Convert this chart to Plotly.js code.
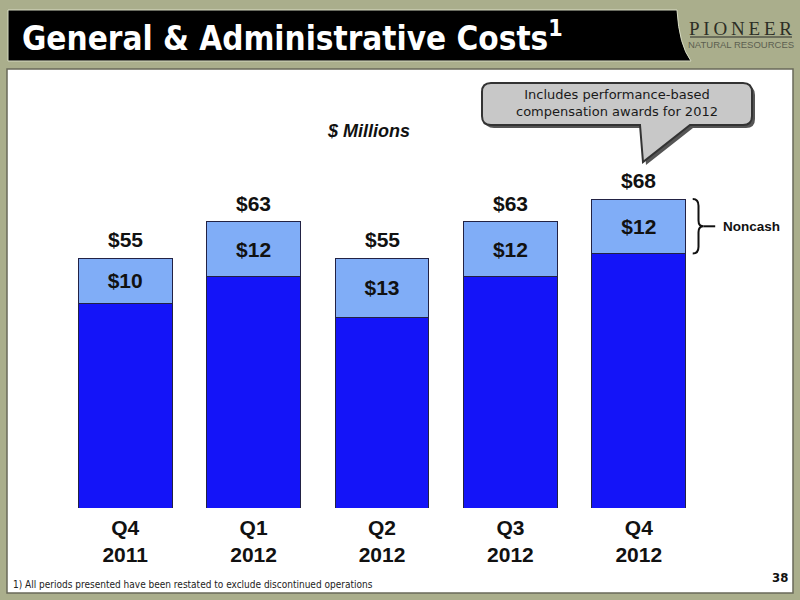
<!DOCTYPE html>
<html>
<head>
<meta charset="utf-8">
<script src="https://cdn.plot.ly/plotly-3.0.1.min.js"></script>
<style>
  body { margin: 0; background: #aaae8c; }
  #chart { width: 800px; height: 600px; }
</style>
</head>
<body>
<div id="chart"></div>
<script>
// chart values ($ millions)
let quarters = ["Q4<br>2011", "Q1<br>2012", "Q2<br>2012", "Q3<br>2012", "Q4<br>2012"]
let cashCosts = [45, 51, 42, 51, 56]
let noncashCosts = [10, 12, 13, 12, 12]
let totalCosts = [55, 63, 55, 63, 68]

let totalLabels = totalCosts.map(v => "$" + v)
let noncashLabels = noncashCosts.map(v => "$" + v)

// page geometry, plot area in pixels
const L = 61, R = 703, T = 70, B = 508
const W = R - L, H = B - T

// pixel -> paper helpers for the slide decoration
function px(x) { return (x - L) / W }
function py(y) { return (B - y) / H }
function path(cmds) {
    return cmds.map(c => {
        if (c[0] == 'Z') return 'Z'
        let out = c[0]
        for (let i = 1; i < c.length; i += 2) out += ' ' + px(c[i]).toFixed(5) + ',' + py(c[i + 1]).toFixed(5)
        return out
    }).join(' ')
}
function calloutPath(dx, dy) {
    let l = 482 + dx, r = 752 + dx, t = 83 + dy, b = 125 + dy, k = 9
    return path([
        ['M', l + k, t], ['L', r - k, t], ['Q', r, t, r, t + k], ['L', r, b - k], ['Q', r, b, r - k, b],
        ['L', 690 + dx, b], ['L', 643 + dx, 162 + dy], ['L', 640 + dx, b],
        ['L', l + k, b], ['Q', l, b, l, b - k], ['L', l, t + k], ['Q', l, t, l + k, t], ['Z']
    ])
}

const boldFont = { family: 'Liberation Sans, Arial', size: 21, color: '#111111', weight: 'bold' }

let cashTrace = {
    x: quarters, y: cashCosts, type: 'bar', name: 'Cash',
    marker: { color: '#1414f8', line: { color: '#222244', width: 1 } },
    hoverinfo: 'none'
}
let noncashTrace = {
    x: quarters, y: noncashCosts, type: 'bar', name: 'Noncash',
    marker: { color: '#80adf7', line: { color: '#222244', width: 1 } },
    text: noncashLabels, textposition: 'inside', insidetextanchor: 'middle',
    textfont: boldFont,
    hoverinfo: 'none'
}

// total labels above each stack
let totalNotes = quarters.map((q, i) => ({
    text: totalLabels[i], x: q, y: totalCosts[i], xref: 'x', yref: 'y',
    yanchor: 'bottom', yshift: 5, showarrow: false, font: boldFont
}))

let layout = {
    width: 800, height: 600,
    margin: { l: L, r: 800 - R, t: T, b: 600 - B },
    paper_bgcolor: '#aaae8c',
    plot_bgcolor: 'rgba(0,0,0,0)',
    barmode: 'stack',
    bargap: 0.27,
    showlegend: false,
    xaxis: {
        range: [-0.5, 4.5], showgrid: false, zeroline: false, showline: false, ticks: '',
        ticklabelstandoff: 5,
        tickfont: boldFont
    },
    yaxis: { range: [0, 96.4], visible: false, fixedrange: true },
    shapes: [
        // white panel
        { type: 'rect', xref: 'paper', yref: 'paper', layer: 'below',
          x0: px(7), x1: px(793), y0: py(69), y1: py(593),
          fillcolor: '#ffffff', line: { color: '#6a6a5a', width: 1.5 } },
        // black title bar
        { type: 'path', xref: 'paper', yref: 'paper', layer: 'below',
          path: path([['M', 8, 10], ['L', 677, 10], ['Q', 679, 45, 691, 61], ['L', 8, 61], ['Z']]),
          fillcolor: '#000000', line: { color: '#d8dcc4', width: 1 } },
        // logo underline
        { type: 'line', xref: 'paper', yref: 'paper',
          x0: px(690), x1: px(792), y0: py(37), y1: py(37), line: { color: '#55574a', width: 1.5 } },
        // callout shadow + bubble
        { type: 'path', xref: 'paper', yref: 'paper', path: calloutPath(3, 3),
          fillcolor: '#555555', line: { width: 0 } },
        { type: 'path', xref: 'paper', yref: 'paper', path: calloutPath(0, 0),
          fillcolor: '#c8c8c8', line: { color: '#333333', width: 2 } },
        // noncash brace on the last bar
        { type: 'path', xref: 'paper', yref: 'y',
          path: 'M 0.984,68 Q 0.993,68 0.993,66.5 L 0.993,63.3 Q 0.993,62 1.001,62 Q 0.993,62 0.993,60.7 L 0.993,57.5 Q 0.993,56 0.984,56',
          line: { color: '#111111', width: 2 } },
        { type: 'line', xref: 'paper', yref: 'y', x0: 1.001, x1: 1.019, y0: 62, y1: 62,
          line: { color: '#111111', width: 2 } }
    ],
    annotations: totalNotes.concat([
        { text: 'General & Administrative Costs<sup>1</sup>', xref: 'paper', yref: 'paper',
          x: px(20), y: py(36), xanchor: 'left', yanchor: 'middle', showarrow: false,
          font: { family: 'DejaVu Sans Condensed, DejaVu Sans', size: 33, color: '#ffffff', weight: 'bold' } },
        { text: 'P\u2009I\u2009O\u2009N\u2009E\u2009E\u2009R', xref: 'paper', yref: 'paper',
          x: px(741), y: py(28), xanchor: 'center', yanchor: 'middle', showarrow: false,
          font: { family: 'Liberation Serif, DejaVu Serif', size: 19, color: '#2d2e26' } },
        { text: 'NATURAL RESOURCES', xref: 'paper', yref: 'paper',
          x: px(741), y: py(44), xanchor: 'center', yanchor: 'middle', showarrow: false,
          font: { family: 'Liberation Sans Narrow, Liberation Sans', size: 9.5, color: '#5c5e50' } },
        { text: 'Includes performance-based<br>compensation awards for 2012', xref: 'paper', yref: 'paper',
          x: px(617), y: py(103), xanchor: 'center', yanchor: 'middle', showarrow: false,
          font: { family: 'DejaVu Sans', size: 13, color: '#1a1a1a' } },
        { text: '<i>$ Millions</i>', xref: 'paper', yref: 'paper',
          x: px(368), y: py(131), xanchor: 'center', yanchor: 'middle', showarrow: false,
          font: { family: 'Liberation Sans, Arial', size: 18, color: '#111111', weight: 'bold' } },
        { text: 'Noncash', xref: 'paper', yref: 'y',
          x: px(721), y: 62, xanchor: 'left', yanchor: 'middle', showarrow: false,
          font: { family: 'Liberation Sans, Arial', size: 13.5, color: '#111111', weight: 'bold' } },
        { text: '1) All periods presented have been restated to exclude discontinued operations',
          xref: 'paper', yref: 'paper', x: px(11), y: py(584), xanchor: 'left', yanchor: 'middle', showarrow: false,
          font: { family: 'Liberation Sans Narrow, DejaVu Sans Condensed', size: 10, color: '#222222' } },
        { text: '38', xref: 'paper', yref: 'paper', x: px(790), y: py(577), xanchor: 'right', yanchor: 'middle',
          showarrow: false, font: { family: 'DejaVu Sans Condensed, DejaVu Sans', size: 13, color: '#111111', weight: 'bold' } }
    ])
}

Plotly.newPlot('chart', [cashTrace, noncashTrace], layout, { displayModeBar: false, staticPlot: true })
</script>
</body>
</html>
